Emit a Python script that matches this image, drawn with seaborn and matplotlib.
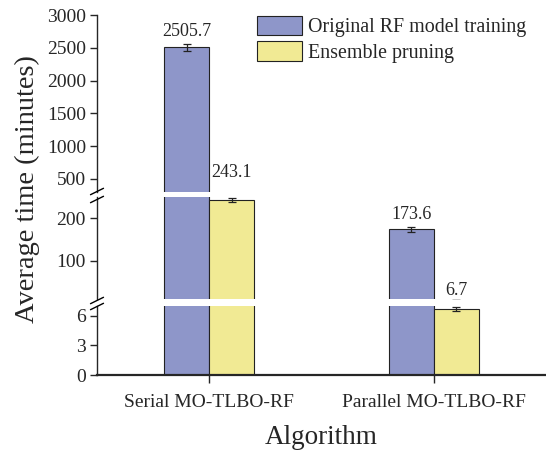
import numpy as np
import pandas as pd
import matplotlib
matplotlib.use("Agg")
import matplotlib.pyplot as plt
import seaborn as sns
from matplotlib.lines import Line2D

# ---------------- data ----------------
algorithms = ["Serial MO-TLBO-RF", "Parallel MO-TLBO-RF"]
methods = ["Original RF model training", "Ensemble pruning"]
original_time = [2505.7, 173.6]
pruning_time = [243.1, 6.7]
original_err = [50.0, 6.0]
pruning_err = [5.0, 0.2]

seg_limits = [(300, 3000), (10, 250), (0, 7)]
seg_ticks = [[500, 1000, 1500, 2000, 2500, 3000], [100, 200], [0, 3, 6]]

# ---------------- style ----------------
sns.set_style("ticks")
plt.rcParams["font.family"] = ["Liberation Serif", "DejaVu Serif"]
plt.rcParams["axes.linewidth"] = 1.0

blue = "#8E96C9"
yellow = "#F1EA94"
edge = "#222222"

df = pd.DataFrame({
    "Algorithm": algorithms * 2,
    "Method": [methods[0]] * len(algorithms) + [methods[1]] * len(algorithms),
    "Time": original_time + pruning_time,
    "Err": original_err + pruning_err,
})

W, H = 546, 451
fig = plt.figure(figsize=(W / 100, H / 100), dpi=100)

def rect(top_px, bottom_px, left_px=97, right_px=546):
    return [left_px / W, 1 - bottom_px / H, (right_px - left_px) / W, (bottom_px - top_px) / H]

seg_px = [(15, 192), (197, 299), (306, 375)]
axes = [fig.add_axes(rect(t, b)) for t, b in seg_px]

label_offsets = {  # offset in points above error bar top
    (0, 0): 3, (1, 0): 3, (0, 1): 12, (1, 1): 6,
}

for i, ax in enumerate(axes):
    sns.barplot(data=df, x="Algorithm", y="Time", hue="Method",
                hue_order=methods, order=algorithms, saturation=1,
                palette=[blue, yellow], width=0.4, edgecolor=edge,
                linewidth=0.8, errorbar=None, ax=ax, legend=(i == 0))
    ax.set_ylim(*seg_limits[i])
    ax.set_yticks(seg_ticks[i])
    ax.set_xlim(-0.5, 1.5)
    ax.set_ylabel("")
    ax.set_xlabel("")
    ax.spines["top"].set_visible(False)
    ax.spines["right"].set_visible(False)
    ax.tick_params(axis="y", labelsize=14, length=5, width=1, pad=3, direction="out")
    if i < 2:
        ax.spines["bottom"].set_visible(False)
        ax.tick_params(axis="x", bottom=False, labelbottom=False)
    else:
        ax.spines["bottom"].set_linewidth(1.6)
        ax.tick_params(axis="x", labelsize=14, length=6, width=1, pad=8)
        ax.set_xlabel("Algorithm", fontsize=19.5, labelpad=10)

    # error bars and value labels
    bar_conts = [c for c in ax.containers if hasattr(c, "patches")]
    for h, cont in enumerate(bar_conts):
        for c, bar in enumerate(cont.patches):
            xc = bar.get_x() + bar.get_width() / 2
            v = bar.get_height()
            err = df[(df.Method == methods[h]) & (df.Algorithm == algorithms[c])]["Err"].iloc[0]
            ax.errorbar(xc, v, yerr=err, fmt="none", ecolor="#222222",
                        elinewidth=0.9, capsize=3, capthick=0.9)
            lo, hi = seg_limits[i]
            if lo <= v <= hi:
                ax.annotate(f"{v:.1f}", xy=(xc, v + err), xytext=(0, label_offsets[(c, h)]),
                            textcoords="offset points", ha="center", va="bottom",
                            fontsize=13, annotation_clip=False, clip_on=False)

handles, labels = axes[0].get_legend_handles_labels()
axes[0].get_legend().remove()
fig.legend(handles, labels, loc="upper left", bbox_to_anchor=(257 / W, 1 - 16 / H),
           frameon=False, fontsize=14.4, handlelength=2.25, handleheight=1.1,
           handletextpad=0.3, labelspacing=0.2, borderpad=0, borderaxespad=0)

fig.text(27 / W, 1 - 189 / H, "Average time (minutes)", rotation=90,
         ha="center", va="center", fontsize=20.5)

# break marks on the left spine
def slash(xc, yc):
    dx, dy = 6.5, 3.2
    fig.add_artist(Line2D([(xc - dx) / W, (xc + dx) / W],
                          [1 - (yc + dy) / H, 1 - (yc - dy) / H],
                          color="black", lw=1.0))

for yc in (191.5, 199.5, 300.5, 306.5):
    slash(97, yc)

fig.savefig("out.png", dpi=100)
